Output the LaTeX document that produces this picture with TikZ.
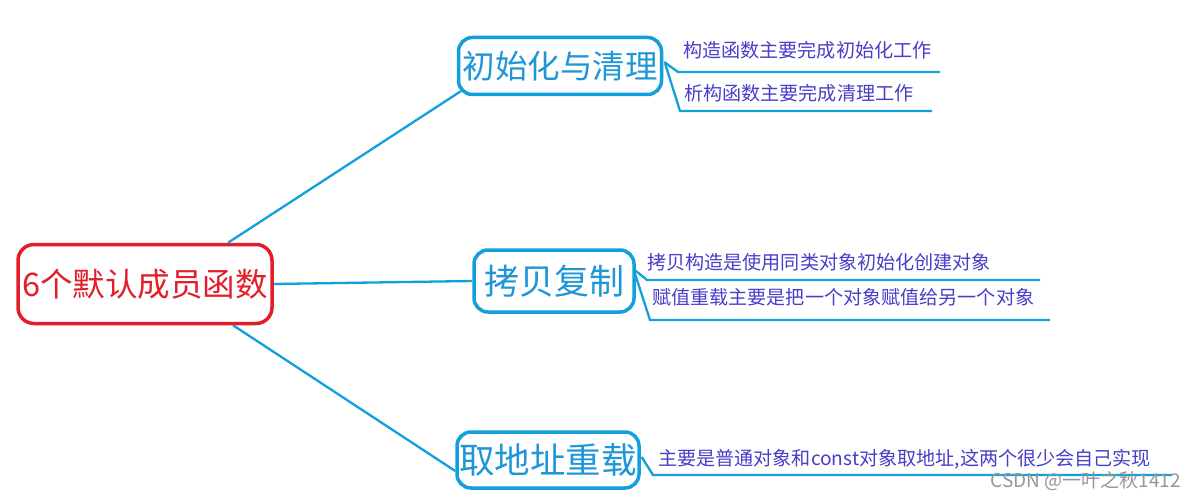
\documentclass[tikz,border=0pt]{standalone}
\usepackage{fontspec}
\setmainfont{Noto Sans CJK SC}
\definecolor{lineblue}{RGB}{18,160,220}
\definecolor{nodeblue}{RGB}{30,150,215}
\definecolor{leafpurple}{RGB}{72,62,200}
\definecolor{mainred}{RGB}{228,30,40}
\definecolor{markgray}{RGB}{150,150,150}
\begin{document}
\begin{tikzpicture}[x=1pt,y=-1pt,
  mainbox/.style={draw=mainred,line width=3.5pt,rounded corners=16pt,text=mainred,font=\fontsize{32.5}{32.5}\selectfont,inner sep=0pt},
  topicbox/.style={draw=lineblue,line width=3.5pt,rounded corners=14pt,text=nodeblue,inner sep=0pt},
  conn/.style={draw=lineblue,line width=2.3pt},
  leaf/.style={text=leafpurple,font=\fontsize{19.1}{19.1}\selectfont,anchor=west,inner sep=0pt}]
\useasboundingbox (0,0) rectangle (1193,500);
\fill[white] (0,0) rectangle (1193,500);
% root
\node[mainbox,minimum width=254pt,minimum height=79pt] (root) at (145,284) {6个默认成员函数};
% topics
\node[topicbox,minimum width=203pt,minimum height=57pt,font=\fontsize{32.5}{32.5}\selectfont] (init) at (560,66) {初始化与清理};
\node[topicbox,minimum width=160pt,minimum height=62pt,font=\fontsize{35}{35}\selectfont] (copy) at (554,281) {拷贝复制};
\node[topicbox,minimum width=182pt,minimum height=56pt,font=\fontsize{35.5}{35.5}\selectfont] (addr) at (548,460) {取地址重载};
% root connectors
\draw[conn] ([xshift=83pt]root.north) -- ([xshift=4pt,yshift=5pt]init.south west);
\draw[conn] (root.east) -- (copy.west);
\draw[conn] ([xshift=88pt]root.south) -- ([yshift=-11pt]addr.west);
% leaf coordinates
\coordinate (i1a) at (678,72); \coordinate (i1b) at (940,72);
\coordinate (i2a) at (680,111); \coordinate (i2b) at (932,111);
\coordinate (c1a) at (647,280); \coordinate (c1b) at (1040,280);
\coordinate (c2a) at (650,320); \coordinate (c2b) at (1050,320);
\coordinate (a1a) at (653,475); \coordinate (a1b) at (1172,475);
\draw[conn] ([xshift=1pt,yshift=4pt]init.east) -- (i1a) -- (i1b);
\draw[conn] ([xshift=2pt,yshift=2pt]init.east) -- (i2a) -- (i2b);
\draw[conn] ([xshift=-1pt,yshift=11pt]copy.east) -- (c1a) -- (c1b);
\draw[conn] ([xshift=-1pt,yshift=8pt]copy.east) -- (c2a) -- (c2b);
\draw[conn] ([xshift=1pt,yshift=3pt]addr.east) -- (a1a) -- (a1b);
% leaf texts
\node[leaf] (t1) at (683,50) {构造函数主要完成初始化工作};
\node[leaf] (t2) at (684,93) {析构函数主要完成清理工作};
\node[leaf] (t3) at (647,262) {拷贝构造是使用同类对象初始化创建对象};
\node[leaf] (t4) at (652,297) {赋值重载主要是把一个对象赋值给另一个对象};
\node[leaf] (t5) at (658,459) {主要是普通对象和const对象取地址,这两个很少会自己实现};
% watermark
\node[text=markgray,font=\fontsize{19}{19}\selectfont,anchor=east,inner sep=0pt] (wm) at (1181,481) {CSDN @一叶之秋1412};
\end{tikzpicture}
\end{document}
